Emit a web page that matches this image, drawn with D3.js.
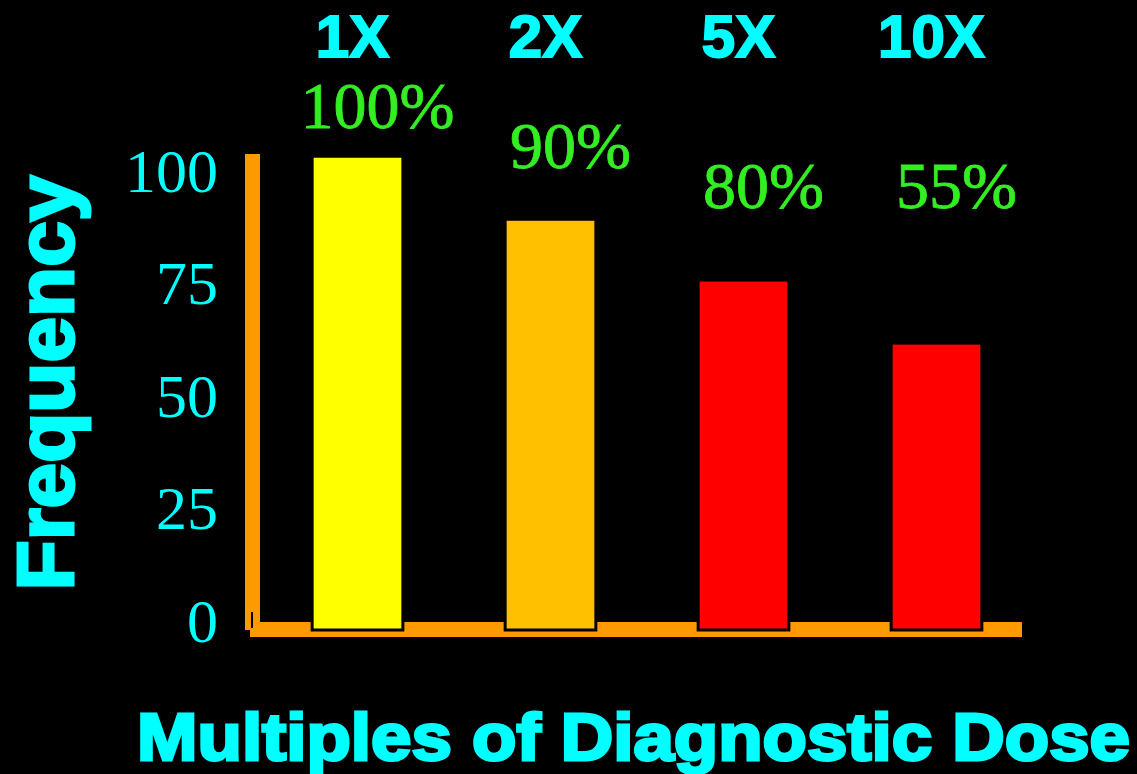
<!DOCTYPE html>
<html>
<head>
<meta charset="utf-8">
<title>Multiples of Diagnostic Dose</title>
<script src="https://d3js.org/d3.v7.min.js"></script>
<style>
  body { margin: 0; background: #000; }
  svg { display: block; background: #000; }
  .tick text { font-family: "Liberation Serif", "Times New Roman", serif; }
</style>
</head>
<body>
<svg width="1137" height="774"></svg>
<script>
// data
var doses = ["1X", "2X", "5X", "10X"];
var frequency = [105, 91, 77.5, 63.5];
var percentLabels = [100, 90, 80, 55];
var barColors = ["#ffff00", "#ffc000", "#ff0000", "#ff0000"];
var yTicks = [0, 25, 50, 75, 100];

var svg = d3.select("svg");
var cyan = "#00ffff", orange = "#ff9900", green = "#33ee22";

var y = d3.scaleLinear()
    .domain([0, 105.5])
    .range([629, 154]);

var x = d3.scaleBand()
    .domain(doses)
    .range([261, 1033])
    .paddingInner(0.53)
    .paddingOuter(0.265);

// percent labels sit higher for higher values, capped near the lower bars
var labelY = d3.scaleLinear().domain([80, 100]).range([208, 128]);

// y axis labels
var yAxis = svg.append("g")
    .attr("transform", "translate(245,0)")
    .call(d3.axisLeft(y).tickValues(yTicks).tickSize(0).tickPadding(27));
yAxis.select(".domain").remove();
yAxis.selectAll("text")
    .attr("fill", cyan)
    .attr("font-size", 62)
    .attr("dy", "0.2em");

// orange axis lines
svg.append("rect")
    .attr("x", 245).attr("width", 15)
    .attr("y", y.range()[1]).attr("height", y(0) - y.range()[1] + 1)
    .attr("fill", orange);
svg.append("rect")
    .attr("x", 250).attr("width", 772)
    .attr("y", y(0) - 7).attr("height", 15)
    .attr("fill", orange);
svg.append("rect")
    .attr("x", 251).attr("width", 2)
    .attr("y", y(0) - 17).attr("height", 16)
    .attr("fill", "#000");

// bars
svg.append("g").selectAll("rect")
  .data(doses)
  .enter().append("rect")
    .attr("x", function(d) { return x(d); })
    .attr("width", x.bandwidth())
    .attr("y", function(d, i) { return y(frequency[i]); })
    .attr("height", function(d, i) { return y(0) - y(frequency[i]) + 1; })
    .attr("fill", function(d, i) { return barColors[i]; })
    .attr("stroke", "#000")
    .attr("stroke-width", 3);

// dose labels along the top
svg.append("g").selectAll("text")
  .data(doses)
  .enter().append("text")
    .attr("x", function(d) { return x(d) + x.bandwidth() / 2 - 5; })
    .attr("y", 57)
    .attr("text-anchor", "middle")
    .attr("font-family", "Liberation Sans, Arial, sans-serif")
    .attr("font-weight", "bold")
    .attr("font-size", 60)
    .attr("fill", cyan)
    .attr("stroke", cyan)
    .attr("stroke-width", 2)
    .text(function(d) { return d; });

// percent labels
svg.append("g").selectAll("text")
  .data(doses)
  .enter().append("text")
    .attr("x", function(d) { return x(d) + x.bandwidth() / 2 + 20; })
    .attr("y", function(d, i) { return Math.min(208, labelY(percentLabels[i])); })
    .attr("text-anchor", "middle")
    .attr("font-family", "Liberation Serif, Times New Roman, serif")
    .attr("font-size", 66)
    .attr("fill", green)
    .attr("stroke", green)
    .attr("stroke-width", 0.8)
    .text(function(d, i) { return percentLabels[i] + "%"; });

// axis titles
svg.append("text")
    .attr("transform", "translate(73,383) rotate(-90)")
    .attr("text-anchor", "middle")
    .attr("font-family", "Liberation Sans, Arial, sans-serif")
    .attr("font-weight", "bold")
    .attr("font-size", 80)
    .attr("textLength", 415)
    .attr("lengthAdjust", "spacingAndGlyphs")
    .attr("fill", cyan)
    .attr("stroke", cyan)
    .attr("stroke-width", 3)
    .text("Frequency");

svg.append("text")
    .attr("x", 137)
    .attr("y", 760)
    .attr("font-family", "Liberation Sans, Arial, sans-serif")
    .attr("font-weight", "bold")
    .attr("font-size", 66)
    .attr("textLength", 993)
    .attr("lengthAdjust", "spacingAndGlyphs")
    .attr("fill", cyan)
    .attr("stroke", cyan)
    .attr("stroke-width", 3)
    .text("Multiples of Diagnostic Dose");
</script>
</body>
</html>
